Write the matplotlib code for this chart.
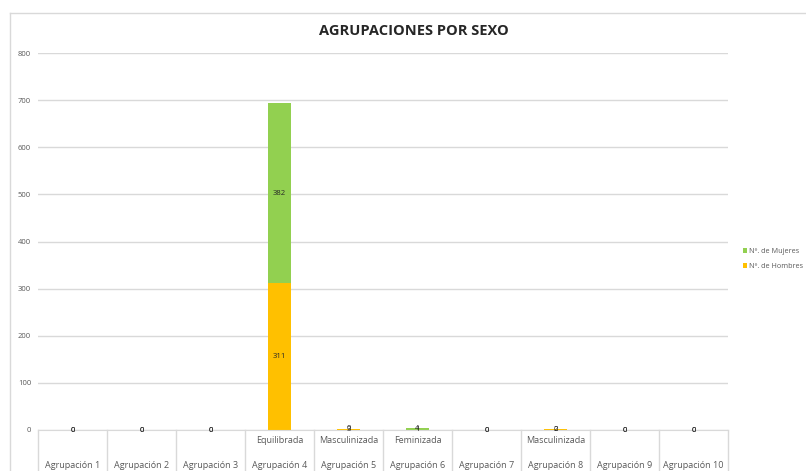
import matplotlib.pyplot as plt
import numpy as np

groups = ["Agrupación 1", "Agrupación 2", "Agrupación 3", "Agrupación 4", "Agrupación 5",
          "Agrupación 6", "Agrupación 7", "Agrupación 8", "Agrupación 9", "Agrupación 10"]
kinds = ["", "", "", "Equilibrada", "Masculinizada", "Feminizada", "", "Masculinizada", "", ""]
hombres = [0, 0, 0, 311, 3, 1, 0, 2, 0, 0]
mujeres = [0, 0, 0, 382, 0, 4, 0, 0, 0, 0]
yticks = [0, 100, 200, 300, 400, 500, 600, 700, 800]

plt.rcParams['font.family'] = ['Open Sans', 'DejaVu Sans']
W, H = 806, 471
fig = plt.figure(figsize=(W / 100, H / 100), dpi=100)
ax = fig.add_axes([38 / W, 41 / H, 690 / W, 377 / H])

# chart frame (top and left edge visible)
fig.add_artist(plt.Line2D([10 / W, 10 / W], [0, 1 - 13 / H], color="#d9d9d9", lw=1))
fig.add_artist(plt.Line2D([10 / W, 1], [1 - 13 / H, 1 - 13 / H], color="#d9d9d9", lw=1))

x = np.arange(len(groups))
ax.bar(x, hombres, width=0.33, color="#ffc000", zorder=2, label="Nº. de Hombres")
ax.bar(x, mujeres, width=0.33, bottom=hombres, color="#92d050", zorder=2, label="Nº. de Mujeres")

for i in x:
    ax.text(i, hombres[i] / 2, str(hombres[i]), ha="center", va="center", fontsize=5.5, color="#262626", zorder=3)
    ax.text(i, hombres[i] + mujeres[i] / 2, str(mujeres[i]), ha="center", va="center", fontsize=5.5, color="#262626", zorder=3)

ax.set_xlim(-0.5, len(groups) - 0.5)
ax.set_ylim(0, 800)
ax.set_yticks(yticks)
ax.tick_params(axis="y", length=0, labelsize=5.5, labelcolor="#595959", pad=5)
ax.set_xticks([])
ax.grid(axis="y", color="#d9d9d9", lw=1, zorder=0)
for s in ["top", "right", "left"]:
    ax.spines[s].set_visible(False)
ax.spines["bottom"].set_color("#d9d9d9")

# two-level category axis drawn as a small table
tr = ax.get_xaxis_transform()
for b in np.arange(-0.5, len(groups), 1.0):
    ax.plot([b, b], [0, -0.12], transform=tr, color="#d9d9d9", lw=1, clip_on=False)
for i in x:
    ax.text(i, -0.028, kinds[i], transform=tr, ha="center", va="center", fontsize=6.5, color="#595959")
    ax.text(i, -0.093, groups[i], transform=tr, ha="center", va="center", fontsize=6.5, color="#595959")

fig.text(414 / W, 1 - 31 / H, "AGRUPACIONES POR SEXO", ha="center", va="center",
         fontsize=10.5, fontweight="bold", color="#262626")

handles, labels = ax.get_legend_handles_labels()
fig.legend(handles[::-1], labels[::-1], loc="center left", bbox_to_anchor=(736 / W, 1 - 259 / H),
           frameon=False, fontsize=5.2, handlelength=0.6, handleheight=0.6, handletextpad=0.3,
           labelspacing=1.1, labelcolor="#595959")

fig.savefig("out.png", dpi=100)
